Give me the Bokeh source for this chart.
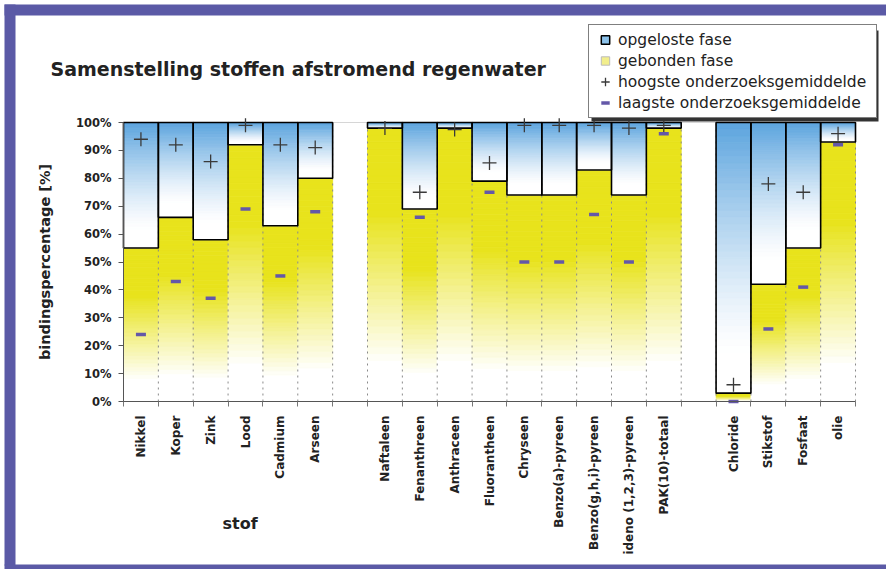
import numpy as np
from bokeh.plotting import figure
from bokeh.models import (ColumnDataSource, Range1d, FixedTicker, SingleIntervalTicker,
                          PrintfTickFormatter, Legend, LegendItem, Label, BoxAnnotation,
                          LinearAxis)
from bokeh.embed import file_html
from bokeh.resources import INLINE

# ---------------- data ----------------
metals = ["Nikkel", "Koper", "Zink", "Lood", "Cadmium", "Arseen"]
pahs = ["Naftaleen", "Fenanthreen", "Anthraceen", "Fluorantheen", "Chryseen",
        "Benzo(a)-pyreen", "Benzo(g,h,i)-pyreen", "ideno (1,2,3)-pyreen", "PAK(10)-totaal"]
others = ["Chloride", "Stikstof", "Fosfaat", "olie"]

# gebonden fase in % (rest = opgeloste fase)
gebonden_metals = [55, 66, 58, 92, 63, 80]
gebonden_pahs = [98, 69, 98, 79, 74, 74, 83, 74, 98]
gebonden_others = [3, 42, 55, 93]

hoogste_metals = [94, 92, 86, 99, 92, 91]
hoogste_pahs = [98, 75, 97.5, 85.5, 99, 99, 99, 98, 99]
hoogste_others = [6, 78, 75, 96]

laagste_metals = [24, 43, 37, 69, 45, 68]
laagste_pahs = [np.nan, 66, np.nan, 75, 50, 50, 67, 50, 96]
laagste_others = [0, 26, 41, 92]

title_text = "Samenstelling stoffen afstromend regenwater"
y_title = "bindingspercentage [%]"
x_title = "stof"
legend_labels = ["opgeloste fase", "gebonden fase",
                 "hoogste onderzoeksgemiddelde", "laagste onderzoeksgemiddelde"]

# ---------------- category slots (groups separated by one empty slot) ----------------
groups = [metals, pahs, others]
names, xs = [], []
pos = 0
for g in groups:
    for n in g:
        names.append(n)
        xs.append(pos)
        pos += 1
    pos += 1
n_slots = pos - 1
boundaries = [k - 0.5 for k in range(n_slots + 1)]

gebonden = gebonden_metals + gebonden_pahs + gebonden_others
hoogste = hoogste_metals + hoogste_pahs + hoogste_others
laagste = laagste_metals + laagste_pahs + laagste_others

# ---------------- page geometry (pixels) ----------------
W, H = 886, 569
PL, PR, PT, PB = 123, 855, 122, 401          # plot area inside the page
sx = (PR - PL) / n_slots                     # px per slot
sy = (PB - PT) / 100.0                       # px per percent
x0, x1 = -0.5 - PL / sx, n_slots - 0.5 + (W - PR) / sx
y0, y1 = -(H - PB) / sy, 100 + PT / sy

BLUE = np.array([92, 164, 222])
YELLOW = np.array([232, 227, 28])
WHITE = np.array([255, 255, 255])


def mix(c, f):
    r = WHITE * (1 - f) + c * f
    return "#%02x%02x%02x" % tuple(int(round(v)) for v in r)


N = 40
L, R, B, T, C = [], [], [], [], []
for x, b in zip(xs, gebonden):
    for k in range(N):                      # bound part 0..b
        t = (k + 0.5) / N
        f = min(max((t - 0.14) / 0.55, 0), 1)
        L.append(x - 0.5); R.append(x + 0.5)
        B.append(b * k / N); T.append(b * (k + 1) / N); C.append(mix(YELLOW, f))
    for k in range(N):                      # dissolved part b..100
        t = (k + 0.5) / N
        f = min(max((t - 0.15) / 0.85, 0), 1) ** 1.3
        L.append(x - 0.5); R.append(x + 0.5)
        B.append(b + (100 - b) * k / N); T.append(b + (100 - b) * (k + 1) / N)
        C.append(mix(BLUE, f))
strips = ColumnDataSource(dict(left=L, right=R, bottom=B, top=T, color=C))

bars = ColumnDataSource(dict(left=[x - 0.5 for x in xs], right=[x + 0.5 for x in xs],
                             bottom=gebonden, top=[100] * len(xs)))
marks = ColumnDataSource(dict(x=xs, hi=hoogste, lo=laagste))
grid_src = ColumnDataSource(dict(x=boundaries, y0=[0] * len(boundaries),
                                 y1=[100] * len(boundaries)))

FONT = "DejaVu Sans"
INK = "#222222"

p = figure(width=W, height=H, x_range=Range1d(x0, x1), y_range=Range1d(y0, y1),
           output_backend="svg", toolbar_location=None,
           x_axis_type=None, y_axis_type=None,
           min_border=0, min_border_left=0, min_border_right=0,
           min_border_top=0, min_border_bottom=0)
p.background_fill_color = "white"
p.border_fill_color = "white"
p.outline_line_color = None
p.grid.visible = False

# gradient fills
p.quad(left="left", right="right", bottom="bottom", top="top", source=strips,
       fill_color="color", line_color="color", line_width=0.8)

# dotted category separators
p.segment(x0="x", y0="y0", x1="x", y1="y1", source=grid_src,
          line_color="#8a8a8a", line_dash="dotted", line_width=1)

# plot-area border
p.add_layout(BoxAnnotation(left=-0.5, right=n_slots - 0.5, bottom=0, top=100,
                           fill_color=None, line_color="#777777", line_width=1,
                           level="underlay"))

# outlines of dissolved parts
p.quad(left="left", right="right", bottom="bottom", top="top", source=bars,
       fill_color=None, line_color="black", line_width=1.6)

hi_r = p.scatter(x="x", y="hi", source=marks, marker="cross", size=14,
                 line_color="#3a3a3a", line_width=1.3)
lo_r = p.scatter(x="x", y="lo", source=marks, marker="dash", size=10,
                 line_color="#6458a8", line_width=3.5)

# ---------------- axes ----------------
xt = FixedTicker(ticks=xs, minor_ticks=boundaries)
xaxis = LinearAxis(ticker=xt, fixed_location=0, bounds=(-0.5, n_slots - 0.5))
xaxis.major_label_overrides = {x: n for x, n in zip(xs, names)}
xaxis.major_label_orientation = np.pi / 2
xaxis.major_label_text_font = FONT
xaxis.major_label_text_font_style = "bold"
xaxis.major_label_text_font_size = "12px"
xaxis.major_label_text_color = INK
xaxis.major_tick_line_color = None
xaxis.major_tick_out = 0
xaxis.major_tick_in = 0
xaxis.major_label_standoff = 9
xaxis.minor_tick_line_color = "#777777"
xaxis.minor_tick_out = 5
xaxis.minor_tick_in = 0
xaxis.axis_line_color = "#555555"
p.add_layout(xaxis, "below")

yaxis = LinearAxis(ticker=SingleIntervalTicker(interval=10, num_minor_ticks=0),
                   formatter=PrintfTickFormatter(format="%d%%"),
                   fixed_location=-0.5, bounds=(0, 100))
yaxis.major_label_text_font = FONT
yaxis.major_label_text_font_style = "bold"
yaxis.major_label_text_font_size = "11.5px"
yaxis.major_label_text_color = INK
yaxis.major_tick_out = 5
yaxis.major_tick_in = 0
yaxis.major_label_standoff = 7
yaxis.minor_tick_line_color = None
yaxis.axis_line_color = "#555555"
yaxis.major_tick_line_color = "#555555"
yaxis.axis_label = y_title
yaxis.axis_label_text_font = FONT
yaxis.axis_label_text_font_style = "bold"
yaxis.axis_label_text_font_size = "14.5px"
yaxis.axis_label_text_color = INK
yaxis.axis_label_standoff = 20
p.add_layout(yaxis, "left")

# ---------------- title and x-title ----------------
p.add_layout(Label(x=50, y=H - 68, x_units="screen", y_units="screen", text=title_text,
                   text_font=FONT, text_font_style="bold", text_font_size="19px",
                   text_color=INK, text_baseline="alphabetic"))
p.add_layout(Label(x=222, y=H - 523, x_units="screen", y_units="screen", text=x_title,
                   text_font=FONT, text_font_style="bold", text_font_size="16px",
                   text_color=INK, text_baseline="alphabetic"))

# ---------------- legend ----------------
nan_src = ColumnDataSource(dict(x=[np.nan], y=[np.nan]))
sw_blue = p.scatter(x="x", y="y", source=nan_src, marker="square", size=11,
                    fill_color="#8cc2ea", line_color="black", line_width=1.5)
sw_yel = p.scatter(x="x", y="y", source=nan_src, marker="square", size=11,
                   fill_color="#f2ee8c", line_color="#bbbbbb", line_width=1)

LG_L, LG_T, LG_W, LG_H = 588, 27, 287, 91
p.add_layout(BoxAnnotation(left=LG_L + 3, right=LG_L + LG_W + 3, top=H - LG_T - 3,
                           bottom=H - LG_T - LG_H - 3,
                           left_units="screen", right_units="screen",
                           top_units="screen", bottom_units="screen",
                           fill_color="#333333", fill_alpha=1, line_color=None))

legend = Legend(items=[LegendItem(label=legend_labels[0], renderers=[sw_blue]),
                       LegendItem(label=legend_labels[1], renderers=[sw_yel]),
                       LegendItem(label=legend_labels[2], renderers=[hi_r]),
                       LegendItem(label=legend_labels[3], renderers=[lo_r])],
                location=(LG_L, H - LG_T - LG_H), orientation="vertical")
legend.label_text_font = FONT
legend.label_text_font_size = "15.5px"
legend.label_text_color = INK
legend.padding = 4
legend.spacing = 0
legend.margin = 0
legend.glyph_width = 24
legend.glyph_height = 21
legend.label_height = 21
legend.label_standoff = 1
legend.label_width = 254
legend.border_line_color = "black"
legend.border_line_width = 1
legend.background_fill_color = "white"
legend.background_fill_alpha = 1
p.add_layout(legend, "center")

# ---------------- purple page frame ----------------
FRAME = "#5b5aa6"
for l, r, t, b in [(4, W, 4, 15), (4, 15, 4, 565), (4, W, 564, H)]:
    p.add_layout(BoxAnnotation(left=l, right=r, top=H - t, bottom=H - b,
                               left_units="screen", right_units="screen",
                               top_units="screen", bottom_units="screen",
                               fill_color=FRAME, fill_alpha=1, line_color=None,
                               level="overlay"))

open("out.html", "w").write(file_html(p, INLINE))
